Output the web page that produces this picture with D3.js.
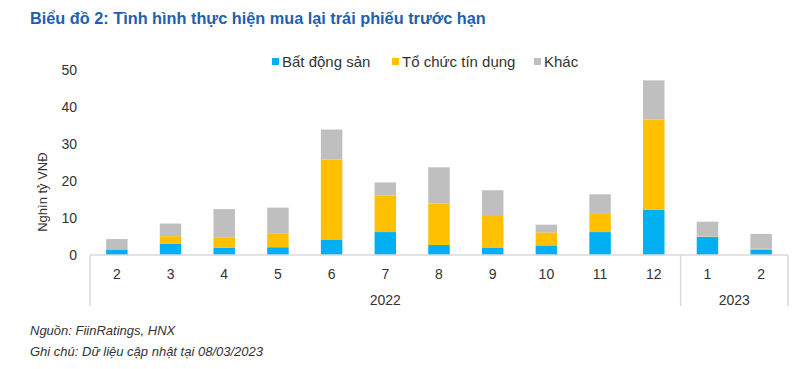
<!DOCTYPE html>
<html>
<head>
<meta charset="utf-8">
<script src="https://cdn.jsdelivr.net/npm/d3@7"></script>
<style>
  body { margin: 0; background: #fff; }
  svg { display: block; font-family: "Liberation Sans", Arial, sans-serif; }
</style>
</head>
<body>
<div id="chart"></div>
<script>
// data (nghìn tỷ VNĐ)
var months = ["2", "3", "4", "5", "6", "7", "8", "9", "10", "11", "12", "1", "2"];
var years = ["2022", "2022", "2022", "2022", "2022", "2022", "2022", "2022", "2022", "2022", "2022", "2023", "2023"];
var batDongSan = [1.5, 3.1, 2.0, 2.1, 4.2, 6.2, 2.7, 1.9, 2.6, 6.2, 12.2, 4.9, 1.5];
var toChucTinDung = [0.1, 2.0, 2.8, 3.8, 21.6, 9.9, 11.2, 8.9, 3.5, 4.9, 24.4, 0.1, 0.2];
var khac = [2.7, 3.4, 7.6, 6.9, 8.1, 3.5, 9.8, 6.7, 2.1, 5.3, 10.6, 4.0, 4.0];
var yTicks = [0, 10, 20, 30, 40, 50];

var seriesNames = ["Bất động sản", "Tổ chức tín dụng", "Khác"];
var seriesColors = ["#00B0F0", "#FFC000", "#BFBFBF"];

var W = 810, H = 369;
var margin = {left: 90, right: 22, top: 70, bottom: 114};

var svg = d3.select("#chart").append("svg")
    .attr("width", W)
    .attr("height", H);

var rows = months.map(function(m, i) {
    return {key: i, month: m, year: years[i], s0: batDongSan[i], s1: toChucTinDung[i], s2: khac[i]};
});

var x = d3.scaleBand()
    .domain(rows.map(function(d) { return d.key; }))
    .range([margin.left, W - margin.right])
    .paddingInner(0.6)
    .paddingOuter(0.3);

var y = d3.scaleLinear()
    .domain([0, 50])
    .range([H - margin.bottom, margin.top]);

var stack = d3.stack().keys(["s0", "s1", "s2"]);
var layers = stack(rows);

// title
svg.append("text")
    .attr("x", 30)
    .attr("y", 24)
    .attr("fill", "#1F5FAE")
    .style("font-size", "16.3px")
    .style("font-weight", "bold")
    .text("Biểu đồ 2: Tình hình thực hiện mua lại trái phiếu trước hạn");

// bars
svg.selectAll("g.layer")
    .data(layers)
  .enter().append("g")
    .attr("class", "layer")
    .attr("fill", function(d, i) { return seriesColors[i]; })
  .selectAll("rect")
    .data(function(d) { return d; })
  .enter().append("rect")
    .attr("x", function(d) { return x(d.data.key); })
    .attr("width", x.bandwidth())
    .attr("y", function(d) { return y(d[1]); })
    .attr("height", function(d) { return y(d[0]) - y(d[1]); });

// y axis labels
svg.append("g")
    .selectAll("text")
    .data(yTicks)
  .enter().append("text")
    .attr("x", 77)
    .attr("y", function(d) { return y(d); })
    .attr("dy", "0.36em")
    .attr("text-anchor", "end")
    .attr("fill", "#333")
    .style("font-size", "14px")
    .text(function(d) { return d; });

svg.append("text")
    .attr("transform", "translate(47," + y(17) + ") rotate(-90)")
    .attr("text-anchor", "middle")
    .attr("fill", "#333")
    .style("font-size", "13px")
    .text("Nghìn tỷ VNĐ");

// x axis: baseline + group separators
var axisColor = "#D9D9D9";
var y0 = y(0);
svg.append("line")
    .attr("x1", margin.left).attr("x2", W - margin.right)
    .attr("y1", y0).attr("y2", y0)
    .attr("stroke", axisColor).attr("stroke-width", 1.5);

var step = x.step();
var groups = [];
years.forEach(function(yr, i) {
    if (!groups.length || groups[groups.length - 1].year !== yr) groups.push({year: yr, first: i, last: i});
    else groups[groups.length - 1].last = i;
});
function bandLeft(i) { return margin.left + i * step; }

var seps = [0].concat(groups.map(function(g) { return g.last + 1; }));
svg.selectAll("line.sep")
    .data(seps)
  .enter().append("line")
    .attr("class", "sep")
    .attr("x1", function(d) { return bandLeft(d); })
    .attr("x2", function(d) { return bandLeft(d); })
    .attr("y1", y0).attr("y2", y0 + 51)
    .attr("stroke", axisColor).attr("stroke-width", 1.5);

svg.selectAll("text.month")
    .data(rows)
  .enter().append("text")
    .attr("class", "month")
    .attr("x", function(d) { return x(d.key) + x.bandwidth() / 2; })
    .attr("y", y0 + 24)
    .attr("text-anchor", "middle")
    .attr("fill", "#333")
    .style("font-size", "14px")
    .text(function(d) { return d.month; });

svg.selectAll("text.year")
    .data(groups)
  .enter().append("text")
    .attr("class", "year")
    .attr("x", function(g) { return (bandLeft(g.first) + bandLeft(g.last + 1)) / 2; })
    .attr("y", y0 + 50)
    .attr("text-anchor", "middle")
    .attr("fill", "#333")
    .style("font-size", "14px")
    .text(function(g) { return g.year; });

// legend
var legendX = [272, 392, 534];
var legend = svg.selectAll("g.legend")
    .data(seriesNames)
  .enter().append("g")
    .attr("class", "legend")
    .attr("transform", function(d, i) { return "translate(" + legendX[i] + ",58)"; });

legend.append("rect")
    .attr("width", 7).attr("height", 7)
    .attr("fill", function(d, i) { return seriesColors[i]; });

legend.append("text")
    .attr("x", 10)
    .attr("y", 3.5)
    .attr("dy", "0.36em")
    .attr("fill", "#333")
    .style("font-size", "15px")
    .text(function(d) { return d; });

// footnotes
var notes = ["Nguồn: FiinRatings, HNX", "Ghi chú: Dữ liệu cập nhật tại 08/03/2023"];
svg.selectAll("text.note")
    .data(notes)
  .enter().append("text")
    .attr("class", "note")
    .attr("x", 30)
    .attr("y", function(d, i) { return 335 + i * 21; })
    .attr("fill", "#333")
    .style("font-size", "13px")
    .style("font-style", "italic")
    .text(function(d) { return d; });
</script>
</body>
</html>
